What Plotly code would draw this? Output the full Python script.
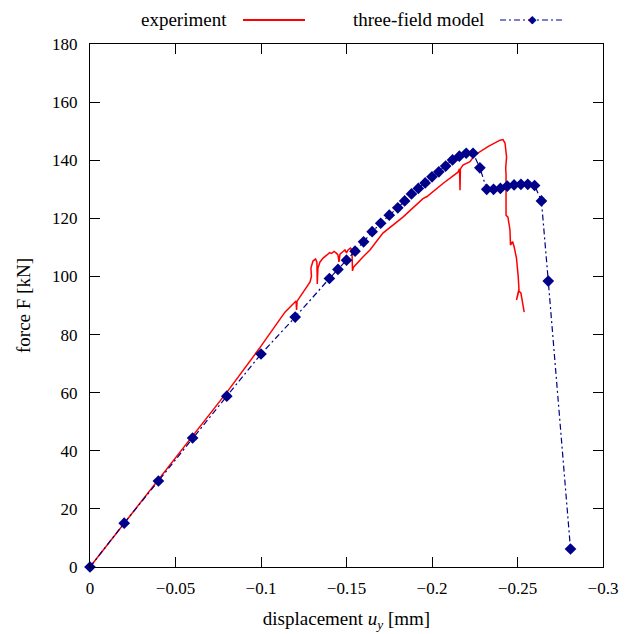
import plotly.graph_objects as go

# three-field model (displacement u_y [mm], force F [kN])
model_u = [0.0, -0.02, -0.04, -0.06, -0.08, -0.10, -0.12, -0.14, -0.145, -0.15, -0.155,
           -0.16, -0.165, -0.17, -0.175, -0.18, -0.184, -0.188, -0.192, -0.196, -0.200,
           -0.204, -0.208, -0.212, -0.216, -0.220, -0.224, -0.228, -0.232, -0.236,
           -0.240, -0.244, -0.248, -0.252, -0.256, -0.260, -0.264, -0.268, -0.281]
model_F = [0.0, 15.1, 29.6, 44.4, 58.8, 73.3, 86.0, 99.3, 102.4, 105.6, 108.7,
           111.9, 115.4, 118.3, 121.1, 123.6, 126.0, 128.4, 130.3, 132.2, 134.3,
           136.0, 138.0, 140.1, 141.4, 142.4, 142.4, 137.4, 130.0, 130.0,
           130.3, 131.1, 131.5, 131.7, 131.7, 131.3, 126.0, 98.4, 6.2]

# experiment
exp_u = [0.0, -0.0392, -0.0596, -0.0801, -0.100, -0.114, -0.1199, -0.1205, -0.1208, -0.1211,
         -0.1287, -0.1295, -0.1292, -0.1304, -0.1319, -0.1327, -0.1329, -0.1333, -0.1345,
         -0.1363, -0.1386, -0.1401, -0.1412, -0.1427, -0.1439, -0.1450, -0.1456, -0.1462,
         -0.1480, -0.1491, -0.1500, -0.1509, -0.1523, -0.1532, -0.1535, -0.1541, -0.1596,
         -0.1637, -0.1713, -0.1830, -0.1947, -0.1971, -0.2064, -0.2152, -0.2161, -0.2164,
         -0.2166, -0.2181, -0.2222, -0.2251, -0.2327, -0.2398, -0.2415, -0.2427, -0.2436,
         -0.2431, -0.2433, -0.2433, -0.2444, -0.2456, -0.2459, -0.2471, -0.2480, -0.2494,
         -0.2504, -0.2509, -0.2494, -0.2506, -0.2520, -0.2532, -0.2539]
exp_F = [0.0, 29.6, 44.7, 60.2, 76.0, 87.7, 91.2, 91.5, 88.5, 91.5,
         98.1, 100.1, 102.9, 105.3, 106.0, 104.9, 97.4, 102.9, 105.0,
         106.3, 107.4, 108.2, 107.9, 108.6, 108.1, 107.4, 105.0, 107.7,
         108.6, 109.1, 108.1, 109.1, 109.8, 109.1, 101.9, 103.2, 106.7,
         109.1, 114.9, 120.4, 126.8, 127.5, 132.0, 135.9, 137.0, 129.7,
         137.0, 138.3, 139.5, 141.8, 144.7, 146.9, 147.1, 145.9, 141.1,
         137.3, 134.9, 121.1, 120.4, 116.0, 110.8, 112.0, 110.3, 106.3,
         100.1, 95.3, 91.9, 95.0, 94.3, 90.8, 87.7]

x_ticks = [0, -0.05, -0.1, -0.15, -0.2, -0.25, -0.3]
y_ticks = [0, 20, 40, 60, 80, 100, 120, 140, 160, 180]

RED = "#ff0000"
BLUE = "#00008b"
FONT = "Liberation Serif"

fig = go.Figure()
fig.add_trace(go.Scatter(x=exp_u, y=exp_F, mode="lines", name="experiment",
                         line=dict(color=RED, width=1.5), cliponaxis=False))
fig.add_trace(go.Scatter(x=model_u, y=model_F, mode="lines+markers", name="three-field model",
                         line=dict(color=BLUE, width=1.2, dash="6px,3px,2px,3px"),
                         marker=dict(symbol="diamond", size=9, color=BLUE),
                         cliponaxis=False))

axis_common = dict(showgrid=False, zeroline=False, showline=True, linecolor="black",
                   linewidth=1, mirror="allticks", ticks="inside", ticklen=10,
                   tickcolor="black", tickwidth=1,
                   tickfont=dict(family=FONT, size=17, color="black"))

# page body has an 8px margin; plot area spans x 90..603, y 44..567 on screen
fig.update_layout(
    width=626, height=626,
    margin=dict(l=82, r=31, t=36, b=67, autoexpand=False),
    paper_bgcolor="white", plot_bgcolor="white",
    showlegend=False,
    font=dict(family=FONT, size=17, color="black"),
    xaxis=dict(range=[0, -0.3], tickvals=x_ticks, ticklabelstandoff=6,
               title=dict(text="displacement <i>u</i><sub><i>y</i></sub> [mm]",
                          font=dict(family=FONT, size=19), standoff=14),
               **axis_common),
    yaxis=dict(range=[0, 180], tickvals=y_ticks, ticklabelstandoff=8,
               title=dict(text="force F [kN]", font=dict(family=FONT, size=19), standoff=16),
               **axis_common),
)

# legend drawn at the top (text left of sample, as in the original)
LY = 1 + 24 / 523
fig.add_annotation(xref="paper", yref="paper", x=(229 - 90) / 513, y=LY,
                   text="experiment", showarrow=False, xanchor="right", yanchor="middle",
                   font=dict(family=FONT, size=19, color="black"))
fig.add_shape(type="line", xref="paper", yref="paper",
              x0=(243 - 90) / 513, x1=(305 - 90) / 513, y0=LY, y1=LY,
              line=dict(color=RED, width=2))
fig.add_annotation(xref="paper", yref="paper", x=(486 - 90) / 513, y=LY,
                   text="three-field model", showarrow=False, xanchor="right", yanchor="middle",
                   font=dict(family=FONT, size=19, color="black"))
fig.add_shape(type="line", xref="paper", yref="paper",
              x0=(500 - 90) / 513, x1=(564 - 90) / 513, y0=LY, y1=LY,
              line=dict(color=BLUE, width=1.2, dash="6px,3px,2px,3px"))
fig.add_annotation(xref="paper", yref="paper", x=(532 - 90) / 513, y=LY,
                   text="◆", showarrow=False, xanchor="center", yanchor="middle",
                   font=dict(family="DejaVu Sans", size=11, color=BLUE))

fig.write_html("out.html")
